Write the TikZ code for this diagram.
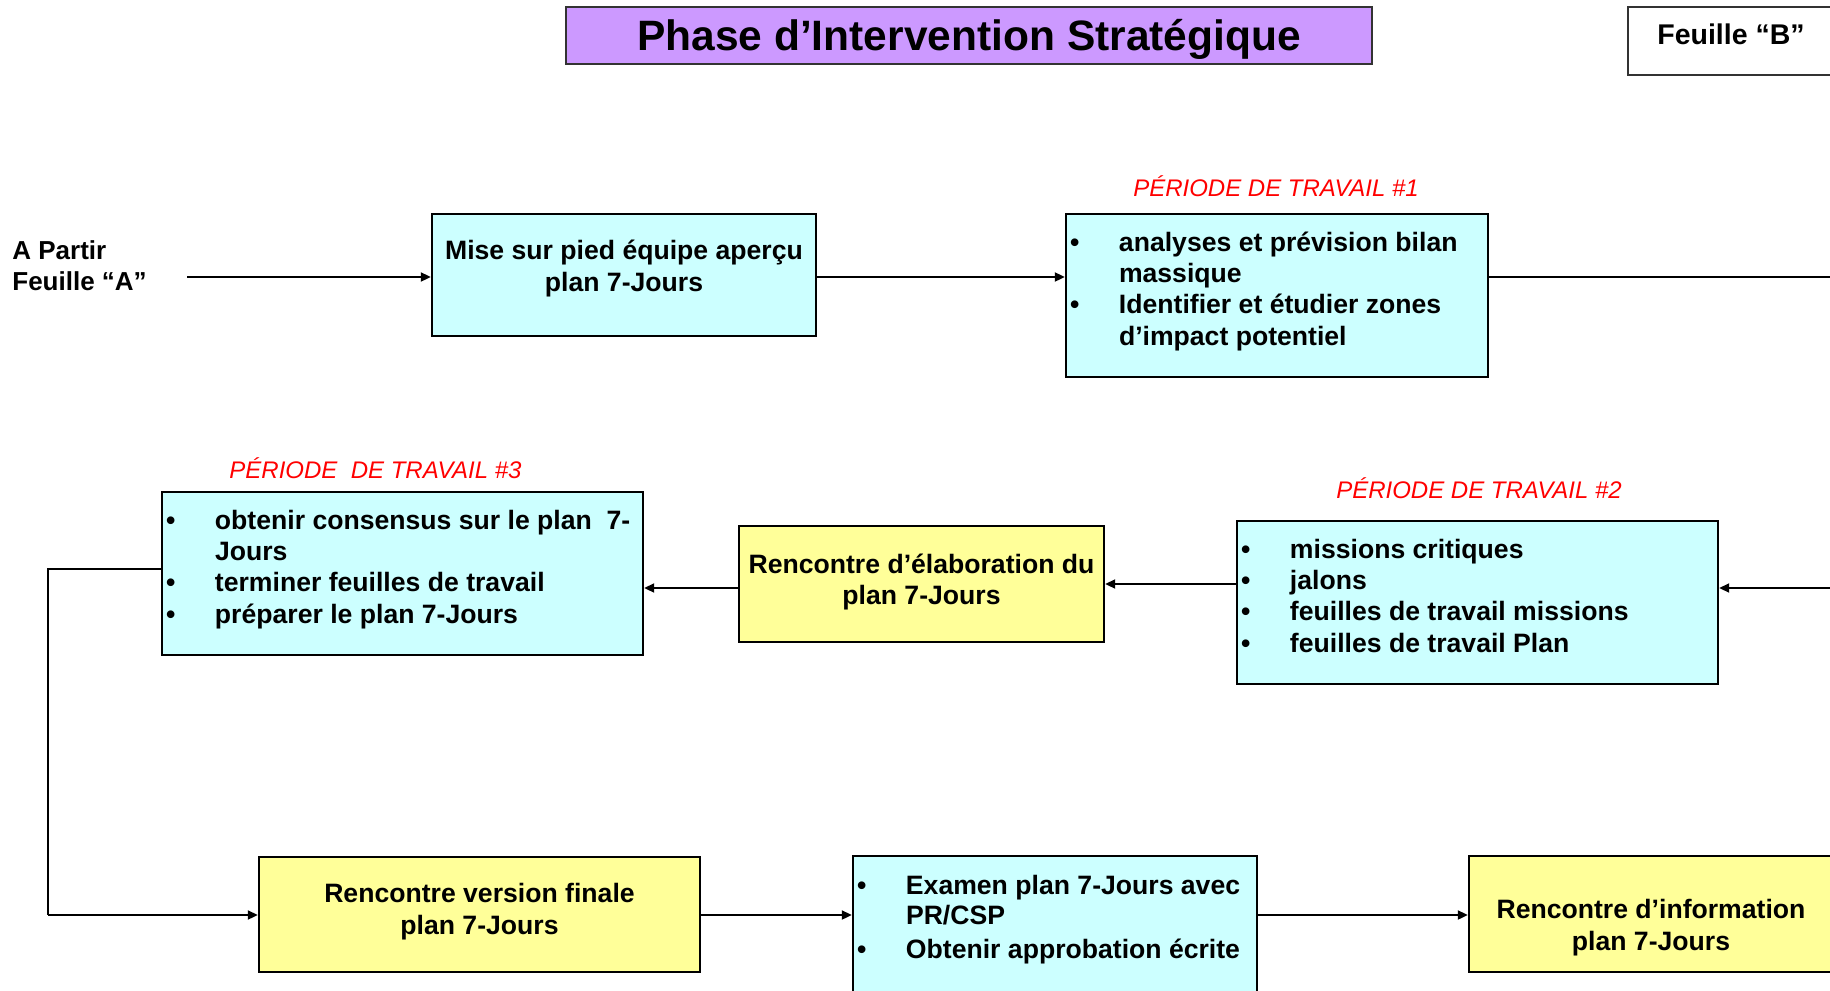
\documentclass[tikz,border=0pt]{standalone}
\usepackage{fontspec}
\setmainfont{Liberation Sans}
\usetikzlibrary{arrows.meta}
\definecolor{boxcyan}{HTML}{CCFFFF}
\definecolor{boxyellow}{HTML}{FFFF99}
\definecolor{titlepurple}{HTML}{CC99FF}
\definecolor{periodred}{HTML}{FF0000}
\newcommand\bodyfont{\fontsize{13.3pt}{15.65pt}\selectfont\bfseries}
\newcommand\bul{\hspace*{2pt}\makebox[24.5pt][l]{\textbullet}}
\newcommand\cont{\hspace*{26.5pt}}
\newcommand\boxtext[5]{\begin{minipage}[c][#2][t]{#1}#4\vspace*{#3}#5\par\end{minipage}}
\tikzset{
  cyanbox/.style={draw=black, line width=1.2pt, fill=boxcyan, inner sep=0pt, font=\bodyfont},
  yellowbox/.style={draw=black, line width=1.2pt, fill=boxyellow, inner sep=0pt, font=\bodyfont},
  period/.style={text=periodred, font=\fontsize{12pt}{14pt}\selectfont\itshape, anchor=base, inner sep=0pt},
  conn/.style={line width=1pt, -{Triangle[length=5pt,width=4.5pt]}},
  plainline/.style={line width=1pt},
}
\begin{document}
\begin{tikzpicture}[x=0.5pt,y=-0.5pt]
\useasboundingbox (0,0) rectangle (1830,990);
\clip (0,0) rectangle (1830,990);
\fill[white] (0,0) rectangle (1830,990);

% title and sheet label
\node[draw=black!80, line width=0.8pt, fill=titlepurple, minimum width=403pt, minimum height=28.5pt,
      inner sep=0pt, font=\fontsize{21.25pt}{25pt}\selectfont\bfseries, text height=15.2pt, text depth=0pt]
      (title) at (969,35.5) {Phase d’Intervention Stratégique};
\node[draw=black!80, line width=0.8pt, fill=white, minimum width=103pt, minimum height=34pt,
      inner sep=0pt, font=\fontsize{14.25pt}{17pt}\selectfont\bfseries, text height=10.2pt, text depth=7pt]
      (feuilleB) at (1731,41) {Feuille “B”};

% start label
\node[anchor=base west, inner sep=0pt, font=\fontsize{13pt}{15.7pt}\selectfont\bfseries]
      (apartir) at (12,259.3) {\begin{tabular}[t]{@{}l@{}}A Partir\\Feuille “A”\end{tabular}};

% period labels
\node[period] (lab1) at (1276,196) {PÉRIODE DE TRAVAIL \#1};
\node[period] (lab3) at (375.5,478) {PÉRIODE~~DE TRAVAIL \#3};
\node[period] (lab2) at (1479,498) {PÉRIODE DE TRAVAIL \#2};

% row 1
\node[cyanbox] (mise) at (624,275) {\boxtext{192pt}{61pt}{11.9pt}{\centering}{\strut Mise sur pied équipe aperçu\\\strut plan 7-Jours}};
\node[cyanbox] (pt1) at (1277,295.5) {\boxtext{211pt}{81.5pt}{7.6pt}{\raggedright}{%
\strut\bul\mbox{analyses et prévision bilan}\\
\strut\cont\mbox{massique}\\
\strut\bul\mbox{Identifier et étudier zones}\\
\strut\cont\mbox{d’impact potentiel}}};

% row 2
\node[cyanbox] (pt3) at (402.5,573.5) {\boxtext{240.5pt}{81.5pt}{7.6pt}{\raggedright}{%
\strut\bul\mbox{obtenir consensus sur le plan~~7-}\\
\strut\cont\mbox{Jours}\\
\strut\bul\mbox{terminer feuilles de travail}\\
\strut\bul\mbox{préparer le plan 7-Jours}}};
\node[yellowbox] (elab) at (921.5,584) {\boxtext{182.5pt}{58pt}{12.7pt}{\centering}{\strut Rencontre d’élaboration du\\\strut plan 7-Jours}};
\node[cyanbox] (pt2) at (1477.5,602.5) {\boxtext{240.5pt}{81.5pt}{7.6pt}{\raggedright}{%
\strut\bul\mbox{missions critiques}\\
\strut\bul\mbox{jalons}\\
\strut\bul\mbox{feuilles de travail missions}\\
\strut\bul\mbox{feuilles de travail Plan}}};

% row 3
\node[yellowbox] (vf) at (479.5,914.5) {\boxtext{220.5pt}{57.5pt}{11.9pt}{\centering}{\strut Rencontre version finale\\\strut plan 7-Jours}};
\node[cyanbox] (ex) at (1055,930) {\boxtext{202pt}{74pt}{8.1pt}{\raggedright}{%
\strut\bul\mbox{Examen plan 7-Jours avec}\\[-0.6pt]
\strut\cont\mbox{PR/CSP}\\[1.35pt]
\strut\bul\mbox{Obtenir approbation écrite}}};
\node[yellowbox] (info) at (1651,914) {\boxtext{182pt}{58pt}{20.5pt}{\centering}{\strut Rencontre d’information\\\strut plan 7-Jours}};

% connectors
\coordinate (apstart) at (187,277);
\coordinate (out1) at (1835,277);
\coordinate (in2) at (1835,588);
\coordinate (loopA) at (48,569);
\coordinate (loopB) at (48,915);

\draw[conn] (apstart) -- (apstart -| mise.west);
\draw[conn] (apstart -| mise.east) -- (apstart -| pt1.west);
\draw[plainline] (apstart -| pt1.east) -- (out1);

\draw[conn] (in2) -- (in2 -| pt2.east);
\draw[conn] (elab.east -| pt2.west) -- (elab.east);
\draw[conn] ([yshift=-2pt]elab.west) -- ([yshift=-2pt]elab.west -| pt3.east);

\draw[plainline, line width=1.3pt] (loopA -| pt3.west) -- (loopA) -- (loopB);
\draw[conn] (loopB) -- (loopB -| vf.west);
\draw[conn] (loopB -| vf.east) -- (loopB -| ex.west);
\draw[conn] (loopB -| ex.east) -- (loopB -| info.west);
\end{tikzpicture}
\end{document}
